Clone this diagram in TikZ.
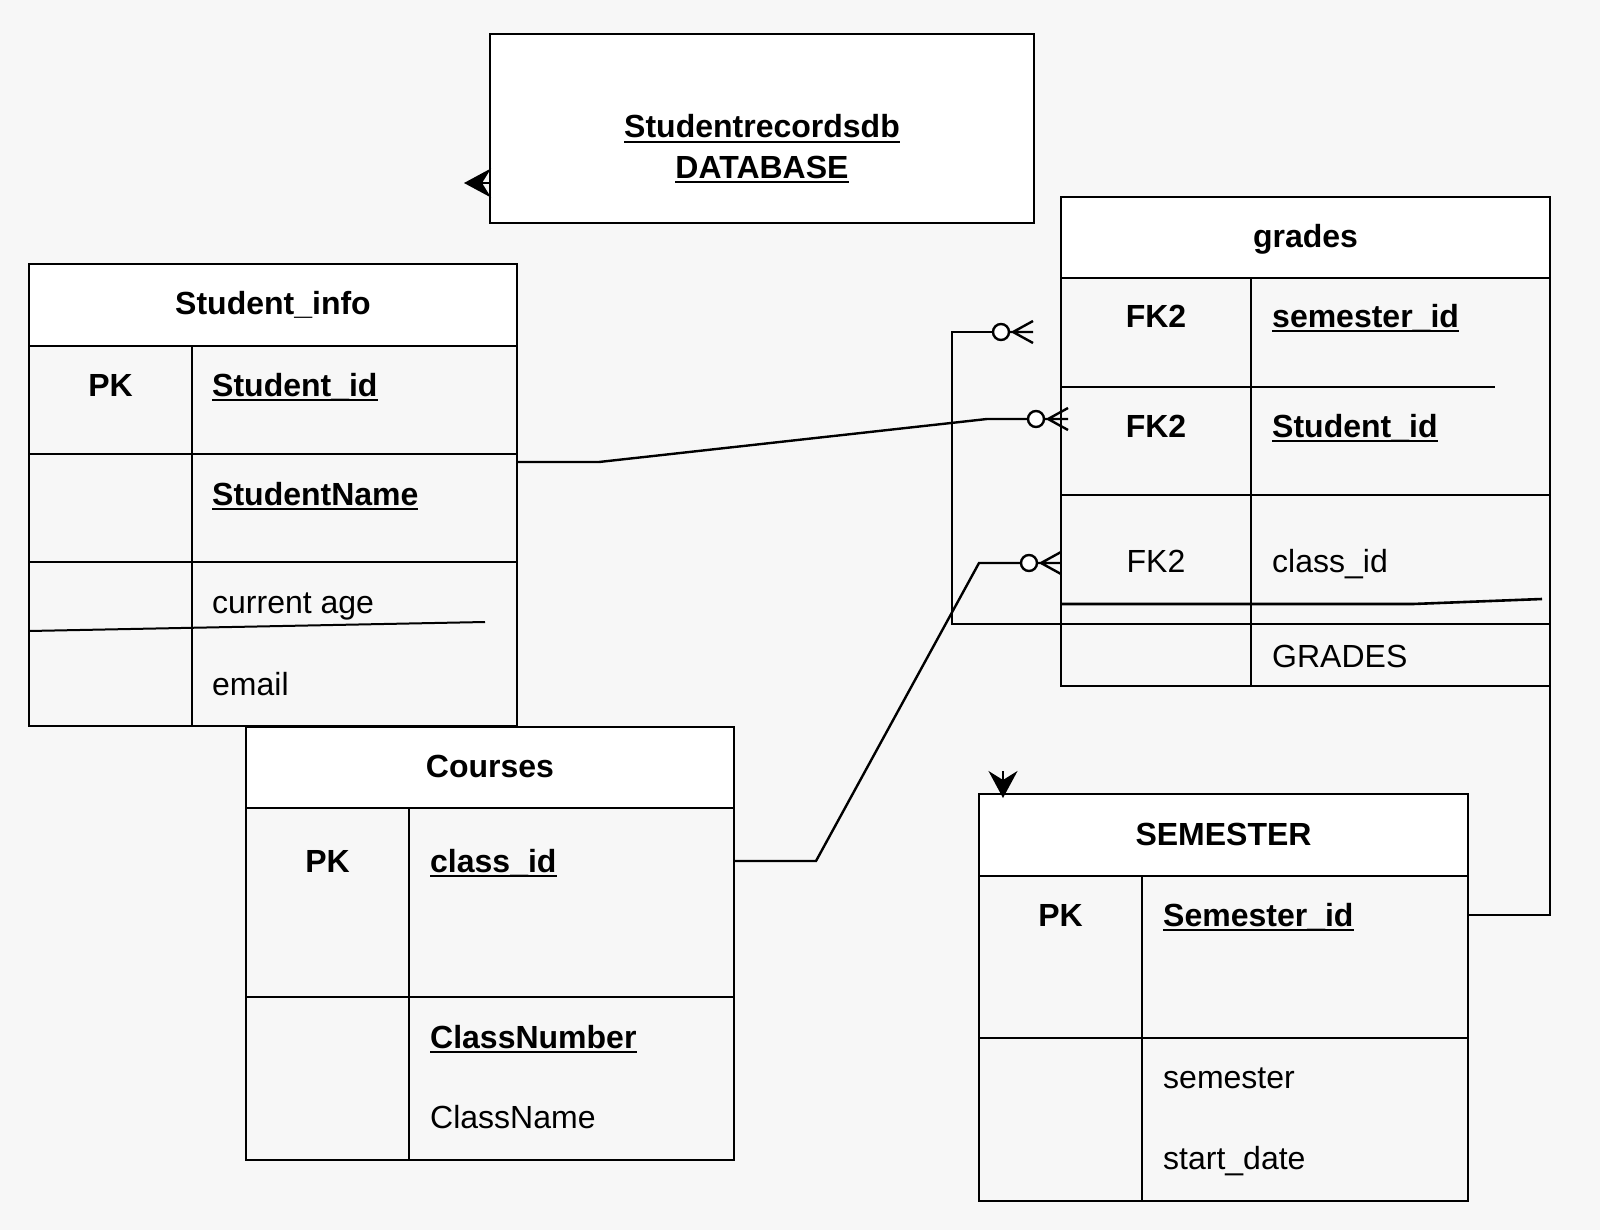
\documentclass[tikz,border=0pt]{standalone}
\usepackage{fontspec}
\setmainfont{Liberation Sans}
\usetikzlibrary{calc,positioning,arrows.meta}
\definecolor{bgc}{HTML}{F7F7F7}
\newcommand\keyname[1]{\textbf{\setbox0\hbox{#1}\rlap{\rule[-5pt]{\wd0}{2.2pt}}\box0}}

\tikzset{
    every node/.style = {font=\fontsize{32}{38}\selectfont, inner sep=0pt},
    tbl/.style = {draw, line width=2.8pt, fill=bgc, outer sep=0pt},
    hdr/.style = {draw, line width=2.8pt, fill=white, outer sep=0pt, font=\fontsize{32}{38}\selectfont\bfseries, text height=20pt, text depth=0pt},
    rowline/.style = {line width=2.6pt},
    conn/.style = {line width=2.4pt},
    arr/.style = {line width=2pt, -{Stealth[length=27pt, width=29pt, inset=9pt]}},
    zmany/.pic = {
        \draw[conn] (-20,0) -- (0,-11) (-24,0) -- (0,0) (-20,0) -- (0,11);
        \draw[conn, fill=white] (-32,0) circle (8);
    }
}

\begin{document}
\begin{tikzpicture}[x=1pt, y=-1pt]
    \fill[bgc] (0,0) rectangle (1600,1230);
    \useasboundingbox (0,0) rectangle (1600,1230);

    \node[tbl, fill=white, minimum width=544pt, minimum height=189pt] (db) at (762,128.5) {};
    \node[anchor=base] (dbn) at ($(db.center) + (0,9.5)$) {\keyname{Studentrecordsdb}};
    \node[anchor=base] (dbt) at ($(db.center) + (0,50)$) {\keyname{DATABASE}};

    \node[tbl, minimum width=488pt, minimum height=462pt] (si) at (273,495) {};
    \node[hdr, minimum width=488pt, minimum height=82pt, anchor=north] (sih) at (si.north) {Student\_info};
    \draw[rowline] ($(sih.south west) + (163,0)$) -- ($(si.south west) + (163,0)$);
    \draw[rowline] (si.west |- 0,454) -- (si.east |- 0,454);
    \draw[rowline] (si.west |- 0,562) -- (si.east |- 0,562);
    \draw[rowline, line width=2pt] (si.west |- 0,631) -- (485,622);
    \node[anchor=base] (sipk) at ($(sih.south west) + (81.5,50)$) {\textbf{PK}};
    \node[anchor=base west] (siid) at ($(sih.south west) + (183,50)$) {\keyname{Student\_id}};
    \node[anchor=base west] (siname) at ($(sih.south west) + (183,159)$) {\keyname{StudentName}};
    \node[anchor=base west] (siage) at ($(sih.south west) + (183,267)$) {current age};
    \node[anchor=base west] (simail) at ($(sih.south west) + (183,349)$) {email};

    \node[tbl, minimum width=488pt, minimum height=433pt] (co) at (490,943.5) {};
    \node[hdr, minimum width=488pt, minimum height=81pt, anchor=north] (coh) at (co.north) {Courses};
    \draw[rowline] ($(coh.south west) + (163,0)$) -- ($(co.south west) + (163,0)$);
    \draw[rowline] (co.west |- 0,997) -- (co.east |- 0,997);
    \node[anchor=base] (copk) at ($(coh.south west) + (81.5,64)$) {\textbf{PK}};
    \node[anchor=base west] (coid) at ($(coh.south west) + (184,64)$) {\keyname{class\_id}};
    \node[anchor=base west] (conum) at ($(coh.south west) + (184,240)$) {\keyname{ClassNumber}};
    \node[anchor=base west] (coname) at ($(coh.south west) + (184,320)$) {ClassName};

    \node[tbl, minimum width=489pt, minimum height=489pt] (gr) at (1305.5,441.5) {};
    \node[hdr, minimum width=489pt, minimum height=81pt, anchor=north] (grh) at (gr.north) {grades};
    \draw[rowline] ($(grh.south west) + (190,0)$) -- ($(gr.south west) + (190,0)$);
    \draw[rowline] (gr.west |- 0,387) -- (1495,387);
    \draw[rowline] (gr.west |- 0,495) -- (gr.east |- 0,495);
    \draw[rowline] (gr.west |- 0,604) -- (1413,604) -- (1542,599);
    \node[anchor=base] (grfa) at ($(grh.south west) + (95,49)$) {\textbf{FK2}};
    \node[anchor=base west] (grsem) at ($(grh.south west) + (211,49)$) {\keyname{semester\_id}};
    \node[anchor=base] (grfb) at ($(grh.south west) + (95,159)$) {\textbf{FK2}};
    \node[anchor=base west] (grstu) at ($(grh.south west) + (211,159)$) {\keyname{Student\_id}};
    \node[anchor=base] (grfc) at ($(grh.south west) + (95,294)$) {FK2};
    \node[anchor=base west] (grcls) at ($(grh.south west) + (211,294)$) {class\_id};
    \node[anchor=base west] (grval) at ($(grh.south west) + (211,389)$) {GRADES};

    \node[tbl, minimum width=489pt, minimum height=407pt] (se) at (1223.5,997.5) {};
    \node[hdr, minimum width=489pt, minimum height=82pt, anchor=north] (seh) at (se.north) {SEMESTER};
    \draw[rowline] ($(seh.south west) + (163,0)$) -- ($(se.south west) + (163,0)$);
    \draw[rowline] (se.west |- 0,1038) -- (se.east |- 0,1038);
    \node[anchor=base] (sepk) at ($(seh.south west) + (81.5,50)$) {\textbf{PK}};
    \node[anchor=base west] (seid) at ($(seh.south west) + (184,50)$) {\keyname{Semester\_id}};
    \node[anchor=base west] (sesem) at ($(seh.south west) + (184,212)$) {semester};
    \node[anchor=base west] (sestart) at ($(seh.south west) + (184,293)$) {start\_date};

    \coordinate (gsem) at (1033,332);
    \coordinate (gstu) at (1068,419);
    \coordinate (gcls) at (gr.west |- 0,563);
    \draw[conn] (si.east |- 0,462) -- (599,462) -- (987,419) -- ($(gstu) + (-40,0)$);
    \draw[conn] (co.east |- 0,861) -- (816,861) -- (979,563) -- ($(gcls) + (-40,0)$);
    \draw[conn] (se.east |- 0,915) -- (gr.east |- 0,915) -- (gr.east |- 0,624) -- (952,624) -- (952,332) -- ($(gsem) + (-40,0)$);
    \pic at (gsem) {zmany};
    \pic at (gstu) {zmany};
    \pic at (gcls) {zmany};

    \coordinate (dbtip) at (464,183);
    \draw[arr] (db.west |- dbtip) -- (dbtip);
    \coordinate (setip) at (1003,798);
    \draw[arr] ($(setip) + (0,-27)$) -- (setip);
\end{tikzpicture}
\end{document}
